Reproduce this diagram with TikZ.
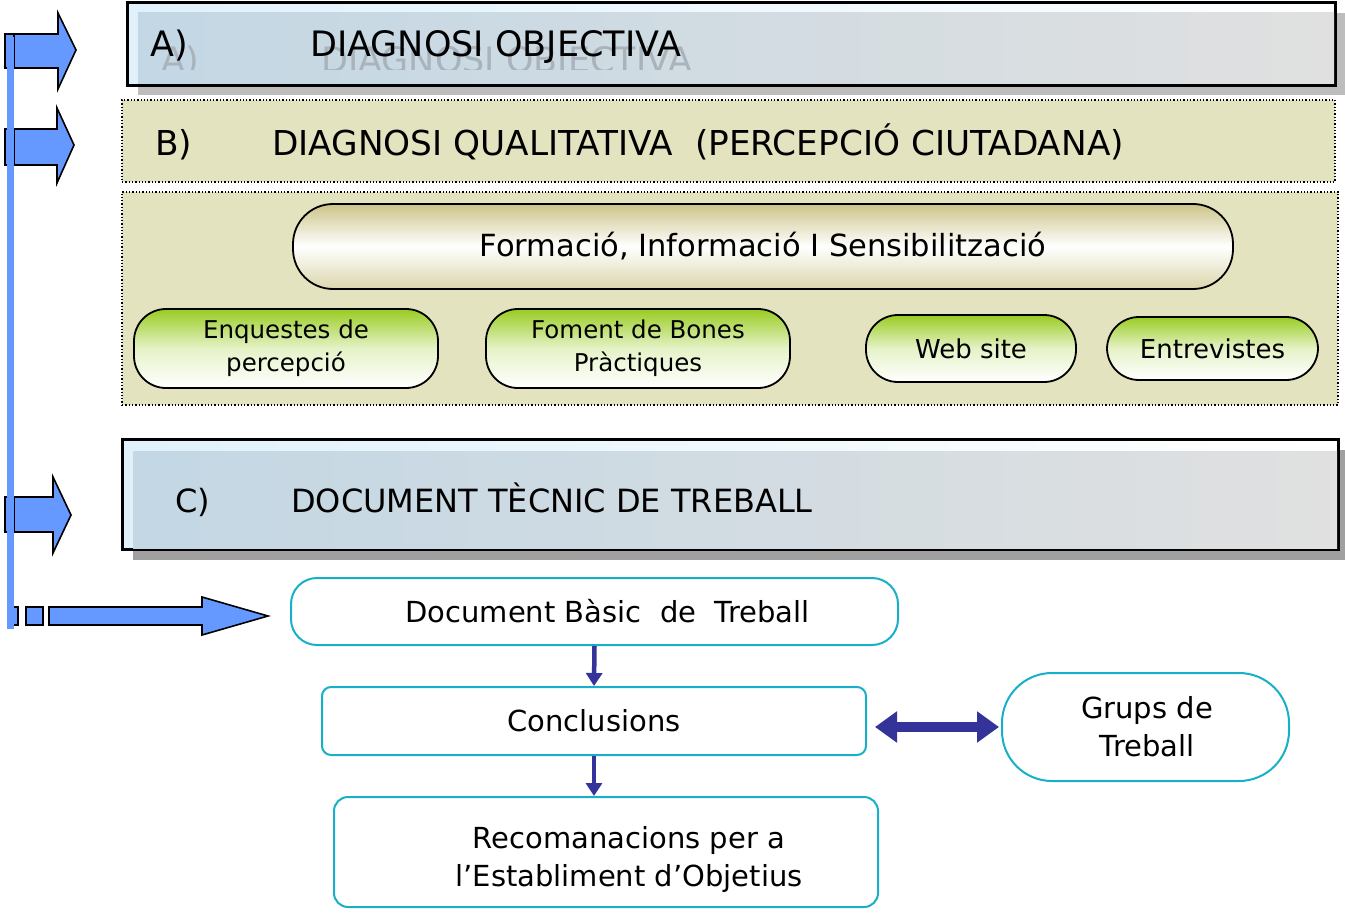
\documentclass[tikz,border=0pt]{standalone}
\usepackage{fontspec}
\setmainfont{DejaVu Sans}
\usetikzlibrary{arrows.meta}
\definecolor{bluearrow}{HTML}{6699FF}
\definecolor{hdrblue}{HTML}{C3D7E4}
\definecolor{hdrgray}{HTML}{E0E0E0}
\definecolor{hdrlight}{HTML}{E0F1FB}
\definecolor{beige}{HTML}{E4E3C0}
\definecolor{khaki}{HTML}{CCC488}
\definecolor{pillgreen}{HTML}{99CC22}
\definecolor{flowcyan}{HTML}{18B0C8}
\definecolor{darkblue}{HTML}{333399}
\definecolor{shadowA}{HTML}{BDBDBD}
\definecolor{shadowC}{HTML}{A0A0A0}
\definecolor{ghost}{HTML}{A9B3BC}
\begin{document}
\begin{tikzpicture}[x=1pt,y=-1pt,
  hdrtxt/.style={anchor=base west, inner sep=0},
  hdrbox/.style={draw=black, line width=2pt, inner sep=0, rectangle},
  dotbox/.style={draw=black, dotted, line width=1.3pt, fill=beige, inner sep=0, rectangle},
  pillF/.style={draw=black, line width=1.8pt, rounded corners=40pt, top color=khaki, bottom color=khaki!70!white, middle color=white, inner sep=0, font=\fontsize{30.5}{36}\selectfont},
  pillG/.style={draw=black, line width=1.8pt, rounded corners=32pt, top color=pillgreen, bottom color=white, middle color=pillgreen!25!white, inner sep=0, align=center, font=\fontsize{24.5}{33}\selectfont},
  pillG1/.style={pillG, font=\fontsize{26}{33}\selectfont},
  flowbox/.style={draw=flowcyan, line width=2pt, fill=white, inner sep=0},
  flowtxt/.style={inner sep=0, align=center, font=\fontsize{29}{38}\selectfont},
  blockarrow/.style={fill=bluearrow, draw=black, line width=1.6pt, line join=miter},
  vflow/.style={draw=darkblue, line width=4.5pt, -{Triangle[length=13pt,width=16pt]}},
  dflow/.style={draw=darkblue, line width=10pt, {Triangle[length=22pt,width=30pt]}-{Triangle[length=22pt,width=30pt]}}
]
\useasboundingbox (0,0) rectangle (1345,915);

% ---------- A header ----------
\fill[shadowA] (138,13) rectangle (1345,95);
\node[hdrbox, left color=hdrlight, right color=white, minimum width=1207pt, minimum height=82pt] (A) at (731.5,44) {};
\shade[left color=hdrblue, right color=hdrgray] (138,13) rectangle (1334,84);
\draw[line width=2pt] (A.north west) rectangle (A.south east);
\begin{scope}
\clip (138,13) rectangle (1334,70);
\node[hdrtxt, text=ghost, font=\fontsize{35}{40}\selectfont] (Aghost) at (161,73) {A)};
\node[hdrtxt, text=ghost, font=\fontsize{35}{40}\selectfont] (Aghost2) at (321,73) {DIAGNOSI OBJECTIVA};
\end{scope}
\node[hdrtxt, font=\fontsize{35}{40}\selectfont] (Alab) at (150,57) {A)};
\node[hdrtxt, font=\fontsize{35}{40}\selectfont] (Atxt) at (310,57) {DIAGNOSI OBJECTIVA};

% ---------- B header ----------
\node[dotbox, minimum width=1213pt, minimum height=82pt] (B) at (728.5,141) {};
\node[hdrtxt, font=\fontsize{34.3}{40}\selectfont] (Blab) at (155,156) {B)};
\node[hdrtxt, font=\fontsize{34.3}{40}\selectfont] (Btxt) at (272,156) {DIAGNOSI QUALITATIVA\ \ (PERCEPCIÓ CIUTADANA)};

% ---------- B content ----------
\node[dotbox, minimum width=1216pt, minimum height=213pt] (Bc) at (730,298.5) {};
\node[pillF, minimum width=940pt, minimum height=85pt] (F) at (763,246.5) {Formació, Informació I Sensibilització};
\node[pillG, minimum width=304pt, minimum height=79pt] (P1) at (286,348.5) {Enquestes de\\percepció};
\node[pillG, minimum width=304pt, minimum height=79pt] (P2) at (638,348.5) {Foment de Bones\\Pràctiques};
\node[pillG1, minimum width=210pt, minimum height=67pt] (P3) at (971,348.5) {Web site};
\node[pillG1, minimum width=211pt, minimum height=63pt] (P4) at (1212.5,348.5) {Entrevistes};

% ---------- C header ----------
\fill[shadowC] (133,450) rectangle (1348,560);
\node[hdrbox, left color=hdrlight, right color=white, minimum width=1215pt, minimum height=109pt] (C) at (730.5,494.5) {};
\shade[left color=hdrblue, right color=hdrgray] (133,451) rectangle (1337,548);
\draw[line width=2pt] (C.north west) rectangle (C.south east);
\node[hdrtxt, font=\fontsize{32}{40}\selectfont] (Clab) at (175,512) {C)};
\node[hdrtxt, font=\fontsize{32}{40}\selectfont] (Ctxt) at (291,512) {DOCUMENT TÈCNIC DE TREBALL};

% ---------- left block arrows ----------
\filldraw[blockarrow] (5,34) -- (58,34) -- (58,13) -- (76,50) -- (58,89) -- (58,68) -- (5,68) -- cycle;
\draw[line width=1.6pt] (14,34) -- (14,68);
\filldraw[blockarrow] (5,129) -- (57,129) -- (57,108) -- (74,145) -- (57,183) -- (57,165) -- (5,165) -- cycle;
\draw[line width=1.6pt] (14,129) -- (14,165);
\filldraw[blockarrow] (5,497) -- (53,497) -- (53,477) -- (71,515) -- (53,553) -- (53,532) -- (5,532) -- cycle;
\draw[line width=1.6pt] (14,497) -- (14,532);
\filldraw[blockarrow] (8,607) rectangle (18,625);
\filldraw[blockarrow] (26,607) rectangle (43,625);
\filldraw[blockarrow] (49,607) -- (202,607) -- (202,597) -- (268,616) -- (202,635) -- (202,625) -- (49,625) -- cycle;
\fill[bluearrow] (6.5,37) rectangle (13.5,629);

% ---------- flow ----------
\node[flowbox, rounded corners=26pt, minimum width=607pt, minimum height=67pt] (Doc) at (594.5,611.5) {};
\node[flowtxt] (DocT) at (607.5,611) {Document Bàsic\ \ de\ \ Treball};
\node[flowbox, rounded corners=9pt, minimum width=544pt, minimum height=68pt] (Conc) at (594,721) {};
\node[flowtxt] (ConcT) at (Conc.center) {Conclusions};
\node[flowbox, rounded corners=14pt, minimum width=544pt, minimum height=110pt] (Rec) at (606,852) {};
\node[flowtxt] (RecT) at (629,859) {Recomanacions per a\\l'Establiment d'Objetius};
\node[flowbox, rounded corners=50pt, minimum width=287pt, minimum height=108pt] (Grups) at (1145.5,727) {};
\node[flowtxt] (GrupsT) at (1147,727) {Grups de\\Treball};

\draw[vflow] (Doc.south) -- (Conc.north);
\draw[vflow] (Conc.south) -- (Conc.south |- Rec.north);
\draw[dflow, shorten <=2pt, shorten >=8pt] (Grups.west) -- (Grups.west -| Conc.east);
\end{tikzpicture}
\end{document}
